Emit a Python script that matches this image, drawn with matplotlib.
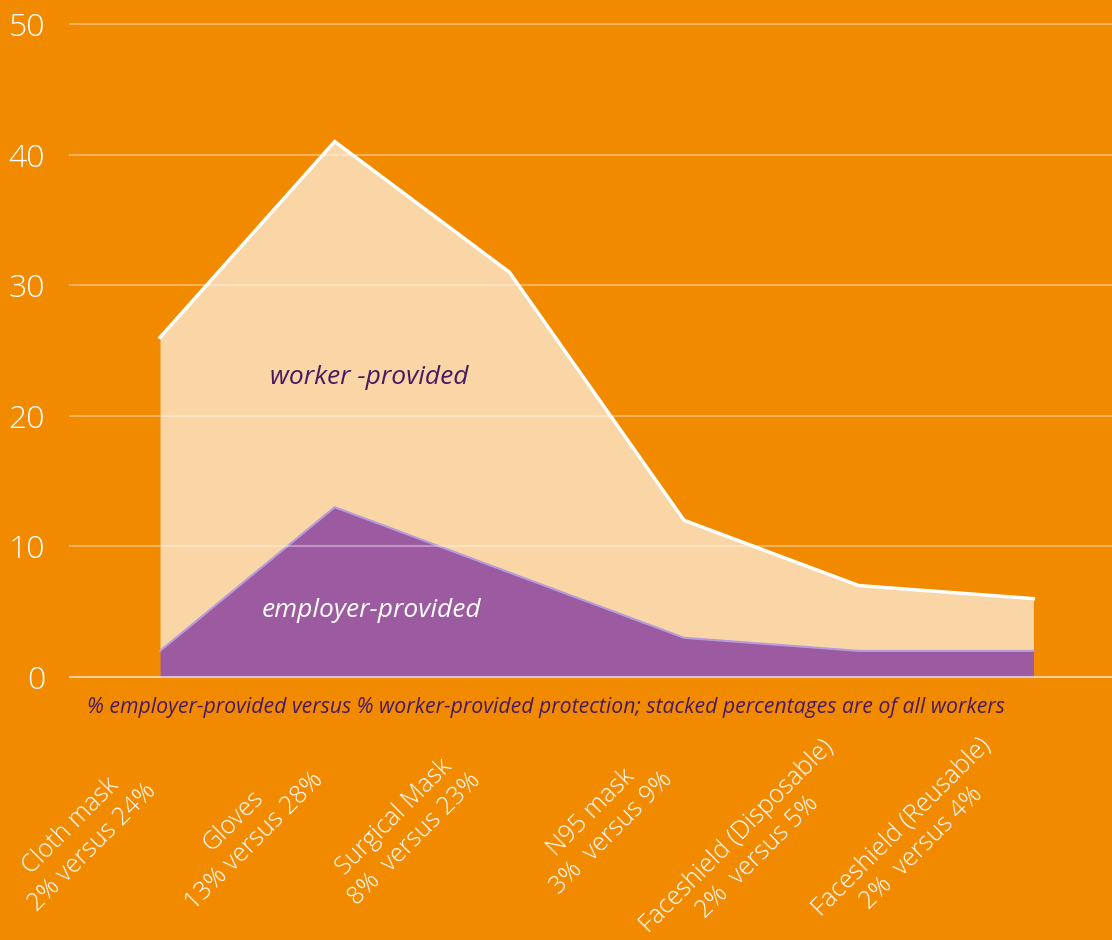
import matplotlib.pyplot as plt
import numpy as np

# data (percent of all workers)
categories = ["Cloth mask\n2% versus 24%", "Gloves\n13% versus 28%", "Surgical Mask\n8%  versus 23%",
              "N95 mask\n3%  versus 9%", "Faceshield (Disposable)\n2%  versus 5%",
              "Faceshield (Reusable)\n2%  versus 4%"]
employer = [2, 13, 8, 3, 2, 2]
worker = [24, 28, 23, 9, 5, 4]
y_ticks = [0, 10, 20, 30, 40, 50]

# small hand nudges (pixels) for the rotated labels
label_nudge = [(7, -11), (0, 0), (-17, 0), (0, 0), (7, 12), (-11, 14)]

# colours
bg = "#F28A00"
peach = "#FAD5A5"
purple = "#9C5BA0"
lavender = "#B69BDE"
dark = "#4A1A60"

plt.rcParams['font.family'] = ['Open Sans', 'DejaVu Sans']
light_font = ['Open Sans Light', 'Open Sans', 'DejaVu Sans']

fig = plt.figure(figsize=(11.12, 9.4), dpi=100, facecolor=bg)
ax = fig.add_axes([0.063, 0.2798, 0.937, 0.7016])
ax.set_facecolor(bg)

x = np.arange(len(categories))
total = np.array(employer) + np.array(worker)

ax.fill_between(x, employer, total, color=peach, lw=0, zorder=1)
ax.fill_between(x, 0, employer, color=purple, lw=0, zorder=2)
ax.plot(x, total, color="white", lw=2.5, zorder=3, solid_joinstyle='miter')
ax.plot(x, employer, color=lavender, lw=1.5, zorder=3)

# grid
for t in y_ticks:
    a = 0.6 if t == 0 else 0.35
    ax.axhline(t, color="white", alpha=a, lw=1.5, zorder=4, clip_on=False)

ax.set_xlim(-0.515, 5.45)
ax.set_ylim(0, 50.5)
ax.set_yticks(y_ticks)
ax.set_yticklabels([str(t) for t in y_ticks], color="white", fontsize=23,
                   fontweight="light", family=light_font)
ax.tick_params(axis='y', length=0, pad=18)
ax.set_xticks([])
for s in ax.spines.values():
    s.set_visible(False)

# x labels, rotated; bottom-right corner of each block sits under its point
for i, lab in enumerate(categories):
    ax.annotate(lab, xy=(i - 0.035, -0.164), xycoords=ax.get_xaxis_transform(),
                xytext=label_nudge[i], textcoords='offset pixels', rotation=45,
                rotation_mode='anchor', ha='right', va='bottom', multialignment='center',
                color="white", fontsize=18, fontweight="light", family=light_font,
                linespacing=1.25, annotation_clip=False)

ax.text(1.2, 22.9, "worker -provided", ha='center', va='center', style='italic',
        color=dark, fontsize=19, zorder=5)
ax.text(1.21, 5.1, "employer-provided", ha='center', va='center', style='italic',
        color="white", fontsize=19, zorder=5)

fig.text(0.491, 1 - 707 / 940, "% employer-provided versus % worker-provided protection; "
         "stacked percentages are of all workers", ha='center', va='center', style='italic',
         color=dark, fontsize=15.3)

fig.savefig("out.png", dpi=100, facecolor=bg)
